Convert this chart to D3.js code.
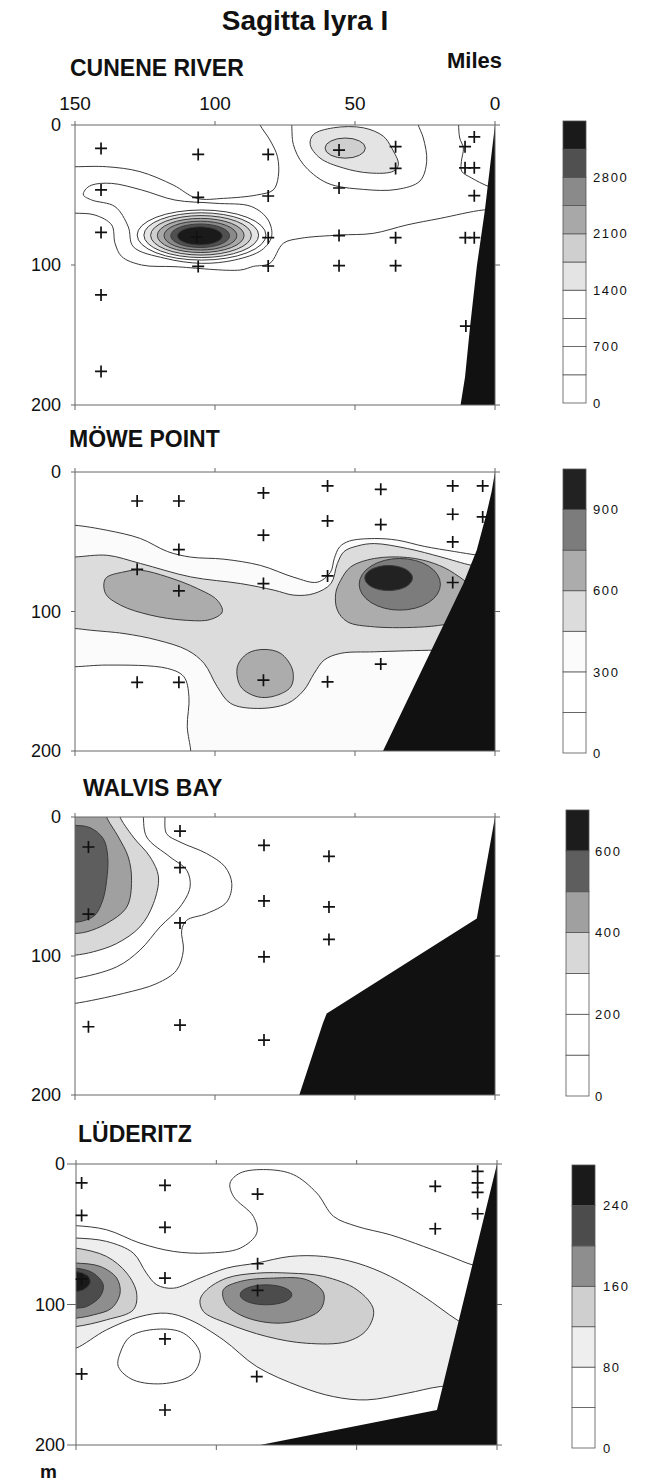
<!DOCTYPE html>
<html><head><meta charset="utf-8">
<script src="https://cdn.jsdelivr.net/npm/d3@7"></script>
<style>
body{margin:0;background:#fff;}
svg text{font-family:"Liberation Sans",Arial,Helvetica,sans-serif;fill:#111;}
</style></head><body>
<svg id="c" width="651" height="1483"></svg>
<script>
// ---------------- DATA (miles offshore, depth in m) ----------------
const title = "Sagitta lyra I";
const panelNames = ["CUNENE RIVER", "MÖWE POINT", "WALVIS BAY", "LÜDERITZ"];
const milesTicks = [150, 100, 50, 0];
const depthTicks = [0, 100, 200];
const legendSteps = [350, 150, 100, 40];
const legendLabelsCunene = [0, 700, 1400, 2100, 2800];
const legendLabelsMowe = [0, 300, 600, 900];
const legendLabelsWalvis = [0, 200, 400, 600];
const legendLabelsLuderitz = [0, 80, 160, 240];

const stationsCunene = [[140.7,16.7],[140.7,46.4],[140.7,76.7],[140.7,121.4],[140.7,176],
  [106,21],[106,51.7],[106.5,80],[106,101],[81,21],[81,50.7],[81,80.5],[81,100.7],
  [55.7,17.9],[55.7,45],[55.7,79],[55.7,100.5],[35.5,15.5],[35.5,31],[35.5,80.5],[35.5,100.5],
  [7.4,8.5],[10.7,15.5],[10.7,30.6],[7.4,30.6],[7.4,50.5],[10.6,80.5],[7.4,80.5],[10.4,143.6]];
const stationsMowe = [[127.8,20.8],[112.9,20.8],[82.7,15],[59.8,10],[40.8,12.4],[15.1,10],[4.4,10],
  [59.8,35.1],[40.8,37.7],[15.1,30.3],[4.4,32.2],[82.7,45.3],[112.9,55.6],[15.1,50.1],
  [127.8,69.7],[112.9,85.2],[82.7,80],[59.8,74.5],[15.1,79.2],
  [40.8,137.7],[127.8,150.8],[112.9,150.8],[82.7,149.2],[59.8,150.4]];
const stationsWalvis = [[112.5,10.1],[145.2,21.6],[112.5,36.4],[145.2,69.9],[112.5,76.2],[145.2,150.9],
  [112.5,149.7],[82.5,20.4],[82.5,60.4],[82.5,100.6],[82.5,160.5],[59.3,28.3],[59.3,64.7],[59.3,88.1]];
const stationsLuderitz = [[148,13.5],[148,36.6],[148,82],[148,149.4],[118.3,15.2],[118.3,45.1],[118.3,81.2],
  [118.3,124.5],[118.3,175.1],[85.3,21.4],[85.3,71],[85.3,90],[85.6,151.3],[22,15.9],[22,46.1],
  [6.9,5.2],[6.9,13.5],[6.9,20.2],[6.9,35.4]];

const landCunene = [[0,0],[1.5,25],[3.6,60.7],[6.5,101],[8.9,144],[10.7,180],[12.3,200],[0,200]];
const landMowe = [[0,0],[1.2,14],[3,29.6],[6.5,56],[11.3,80],[40,200],[0,200]];
const landWalvis = [[0,0],[6.5,73],[60.1,141.3],[61.5,148.5],[69.9,200],[0,200]];
const landLuderitz = [[0,0],[21.4,175],[84.4,200],[0,200]];

// contour lines: runs = traced line pieces, edges = closure outside the frame
const contoursCunene = [
  {v:350, runs:[
    [[155,29.8],[150,29.8],[138.7,29.8],[126.8,33.3],[114.9,42.9],[106.5,52.4],[97,52.4],[85.1,50],[79.2,46.4],[77.4,36.9],[77.7,22.6],[80.4,10.7],[83.9,0],[84.5,-4]],
    [[-3,60.5],[4.2,60.7],[19.6,66.7],[31.5,71.4],[43.5,77.4],[55.4,78.6],[69.6,81],[75.6,84.5],[80.4,98.8],[86.3,101],[91,103.6],[114.3,101.2],[126.2,100],[133.3,94],[135.7,84.5],[136.9,71.4],[142.9,64.3],[150,63],[155,63]]],
   edges:[[[84.5,-6],[-6,-6],[-6,60.5]],[[157,63],[157,29.8]]]},
  {v:700, loop:[[146.4,46.4],[144,42.9],[136.9,41.7],[126.2,46.4],[114.3,53.6],[100,55.9],[86.9,58.3],[81,67.9],[79.8,79.8],[83.3,89.3],[92.9,96.4],[104.8,98.8],[117.9,95.2],[129.2,86.9],[131,72.6],[135.7,58.3],[144,53.6],[147,50]]},
  {v:700, runs:[[[72.8,-3],[72.6,0],[72,14],[68.5,28],[60,41.4],[47,46],[35,46],[26.8,40],[24.4,26],[25.6,9.3],[27.4,0],[27.6,-3]]],
   edges:[[[27.6,-6],[72.8,-6]]]},
  {v:700, runs:[[[13,-3],[13,0],[12.6,9.3],[11.3,16.4],[12,26],[11.9,33],[8.3,37.9],[2.4,43.8],[-3,47]]],
   edges:[[[-6,47],[-6,-6],[13,-6]]]},
  {v:1050, ell:[104.8,78.6,23,17.9]},
  {v:1400, ell:[104.9,78.7,20.5,16]},
  {v:1400, loop:[[64.9,6.9],[57.7,2],[47,2],[39.9,8],[36.9,16.4],[34.5,28.3],[36.3,33],[44.6,34.3],[54.2,30.7],[62.5,23.6],[66,14]]},
  {v:1750, ell:[105,78.8,18,14.1]},
  {v:1750, ell:[53.5,16.5,7.2,7.2]},
  {v:2100, ell:[105.1,78.9,15.5,12.2]},
  {v:2450, ell:[105.2,79,13,10.3]},
  {v:2800, ell:[105.3,79.1,10.5,8.4]},
  {v:3150, ell:[105.4,79.2,8,6.5]}
];
const contoursMowe = [
  {v:300, runs:[
    [[155,38.2],[150,38.2],[138.5,41.8],[126.6,47.7],[117,57],[108.7,61],[96.8,62.5],[83.7,67],[71.8,75.5],[63.5,79],[58.8,72],[57.4,62],[55.5,53.7],[52,49.5],[43.1,47.7],[34.8,48.9],[25.3,53.3],[14.5,57],[6.5,59.5],[3,60]],
    [[108.7,204],[108.7,199.3],[109.9,182.6],[109.3,161.1],[111.1,146.8],[117,140.8],[138.5,138.4],[150,139.6],[155,139.6]]],
   edges:[[[-6,60],[-6,206],[108.7,206]],[[157,139.6],[157,38.2]]]},
  {v:450, runs:[
    [[155,60.9],[150,60.9],[138.5,59.7],[126.6,65.6],[108.7,75.2],[90.8,80],[78.9,84.7],[71.8,88.3],[64.6,87.1],[58.6,80],[56.3,65.6],[53.9,57],[49.1,53],[43.1,51.3],[31.2,54.9],[19.3,60.9],[8.6,66.8],[4,68]],
    [[15,127.5],[21.7,127.7],[43.1,128.9],[55.1,130],[61,134.8],[64.6,144.4],[68.2,156.3],[74.1,165.9],[84.9,169.5],[94.4,165.9],[99.2,153.9],[103.9,137.2],[109.9,127.7],[120.6,120.5],[132.5,115.8],[144.5,113.4],[150,112.2],[155,112]]],
   edges:[[[-6,68],[-6,127.5]],[[157,112],[157,60.9]]]},
  {v:600, loop:[[139.1,76.4],[132.5,71.6],[126.6,70.4],[117,75.2],[106.3,83.5],[99.2,91.9],[97.4,100.2],[101.6,105.7],[111.1,106.2],[123,102.6],[133.7,95.5],[139.1,87.1]]},
  {v:600, loop:[[92,139.6],[88.4,130.1],[82.5,127.2],[76.5,130.1],[72.3,142],[72.9,153.9],[78.8,160.6],[84.9,161.1],[90.8,153.9]]},
  {v:600, loop:[[56.9,87.1],[55.1,77.6],[51.5,68],[43.1,62],[31.2,61.3],[21.7,65.6],[14.5,72.8],[8,85],[10,105],[15.7,108.5],[25.3,111],[43.1,111],[52.7,107.4],[56.3,99]]},
  {v:750, ell:[34,80.5,14.5,18.5]},
  {v:900, ell:[38,76,8.5,9]}
];
const contoursWalvis = [
  {v:100, runs:[[[118,-3],[117.9,0],[117.3,12],[112.5,18],[103,26.3],[96.4,35.9],[94,47.9],[95.8,61.1],[103,69.5],[110.1,74.3],[111.9,81.4],[111.3,95.8],[113.7,110.2],[120.8,119.8],[132.7,126.9],[150,134.1],[155,135]]],
   edges:[[[157,135],[157,-6],[118,-6]]]},
  {v:200, runs:[[[125.7,-3],[125.6,0],[124.4,14.4],[116.1,28.7],[110.1,38.3],[108.9,50.3],[112.5,64.7],[119.6,79],[126.8,95.8],[135.1,107.8],[150,116.2],[155,117]]],
   edges:[[[157,117],[157,-6],[125.7,-6]]]},
  {v:300, runs:[[[134,-3],[133.9,0],[129.2,14.4],[123.2,28.7],[120.2,43.1],[122,62.3],[126.8,79],[135.1,91],[143.5,97],[150,99.4],[155,99.6]]],
   edges:[[[157,99.6],[157,-6],[134,-6]]]},
  {v:400, runs:[[[138.8,-3],[138.7,0],[134.5,14.4],[131,28.7],[129.8,45.5],[131.5,64.7],[138.7,76.6],[145.8,82.6],[150,83.8],[155,84]]],
   edges:[[[157,84],[157,-6],[138.8,-6]]]},
  {v:500, runs:[[[155,6],[150,6],[144.6,7.7],[139.9,15.6],[138.3,28.7],[138.7,45.5],[140.1,59.9],[142.9,70.7],[147,74.7],[150,75.7],[155,76]]],
   edges:[[[157,76],[157,6]]]}
];
const contoursLuderitz = [
  {v:40, runs:[[[155,43.9],[150,43.9],[139.1,46.8],[127.2,56.3],[115.3,62.2],[103.4,63.4],[91.5,59.9],[85.6,49.2],[86.8,37.3],[93.9,23],[95.1,13.5],[91.5,6.4],[82,4],[72.5,7.6],[64.2,20.7],[58.2,37.3],[49.9,44.4],[38,50.4],[26.1,58.7],[16.6,65.8],[8.9,71.7],[4,73.5]]],
   edges:[[[-6,73.5],[-6,206],[157,206],[157,43.9]]]},
  {v:40, hole:true, loop:[[134.3,134.7],[130.7,122.8],[121.2,117.6],[111.7,120.4],[105.8,134.7],[108.2,148.9],[117.7,156.1],[129.6,153.7],[134.9,144.2]]},
  {v:80, runs:[
    [[155,52.7],[150,52.7],[139.1,55.1],[129.6,63.4],[124.9,77.7],[121.2,86],[115.3,88.4],[105.8,81.2],[96.3,74.1],[85.6,70.5],[73.7,65.8],[61.8,65.8],[49.9,70.5],[38,80],[26.1,94.3],[14.3,110.9],[8,118]],
    [[10,158],[20.2,158.4],[32.1,163.2],[46.4,167.9],[58.2,165.6],[70.1,158.4],[85.6,144.2],[97.5,125.2],[109.4,110.9],[117.7,106.2],[127.2,108.6],[139.1,118],[150,131.1],[155,133]]],
   edges:[[[-6,118],[-6,158]],[[157,133],[157,52.7]]]},
  {v:120, runs:[[[155,59.9],[150,59.9],[139.1,65.8],[131.9,77.7],[128.4,91.9],[129.6,103.8],[139.1,110.9],[150,115.7],[155,116]]], edges:[[[157,116],[157,59.9]]]},
  {v:120, loop:[[105.8,96.7],[103.4,89.5],[96.3,81.2],[85.6,77.7],[73.7,77.7],[61.8,80],[49.9,89.5],[44,103.8],[46.4,118],[53.5,126.4],[67.8,127.6],[82,122.8],[96.3,113.3],[104.6,105]]},
  {v:160, runs:[[[155,70.5],[150,70.5],[141.4,72.9],[135.5,81.2],[134.3,91.9],[137.3,102.6],[143.8,107.4],[150,109.7],[155,110]]], edges:[[[157,110],[157,70.5]]]},
  {v:160, loop:[[97.5,89.5],[91.5,83.6],[79.6,81.2],[67.8,82.4],[61.8,91.9],[63,103.8],[72.5,112.1],[82,112.8],[91.5,107.4],[96.8,99]]},
  {v:200, runs:[[[155,74.1],[150,74.1],[143.8,77.7],[140.3,86],[141.4,94.3],[146.2,101.4],[150,102.6],[155,103]]], edges:[[[157,103],[157,74.1]]]},
  {v:200, ell:[82.3,93.1,9.2,7.1]},
  {v:240, runs:[[[155,76.5],[150,76.5],[145.6,80],[145,84.8],[147.4,89.5],[150,90.7],[155,91]]], edges:[[[157,91],[157,76.5]]]}
];

// ---------------- STYLE / LAYOUT ----------------
const bandColors = [
  ["#ffffff","#ffffff","#ffffff","#ffffff","#e4e4e4","#cfcfcf","#a8a8a8","#8a8a8a","#505050","#1a1a1a"],
  ["#ffffff","#ffffff","#fbfbfb","#dcdcdc","#acacac","#7c7c7c","#222222"],
  ["#ffffff","#ffffff","#ffffff","#d8d8d8","#a0a0a0","#5e5e5e","#1c1c1c"],
  ["#ffffff","#ffffff","#eeeeee","#cfcfcf","#8e8e8e","#4c4c4c","#1a1a1a"]
];
const layout = [
  {x0:75, x1:495, y0:125, y1:405, tx:70, ty:76, lx:563, lw:23, lt:121, lb:403, labx:593},
  {x0:75, x1:495, y0:472, y1:751, tx:69, ty:447, lx:563, lw:23, lt:469, lb:753, labx:593},
  {x0:75, x1:495, y0:817, y1:1095, tx:83, ty:796, lx:566, lw:23, lt:810, lb:1096, labx:595},
  {x0:76, x1:497, y0:1164, y1:1445, tx:78, ty:1142, lx:572, lw:23, lt:1165, lb:1448, labx:603}
];
const allStations = [stationsCunene, stationsMowe, stationsWalvis, stationsLuderitz];
const allLand = [landCunene, landMowe, landWalvis, landLuderitz];
const allContours = [contoursCunene, contoursMowe, contoursWalvis, contoursLuderitz];
const allLegendLabels = [legendLabelsCunene, legendLabelsMowe, legendLabelsWalvis, legendLabelsLuderitz];

const svg = d3.select("#c");
svg.append("text").attr("x", 305).attr("y", 30).attr("text-anchor", "middle")
  .attr("font-size", 28).attr("font-weight", "bold").text(title);
svg.append("text").attr("x", 447).attr("y", 68).attr("font-size", 22).attr("font-weight", "bold").text("Miles");
svg.append("text").attr("x", 40).attr("y", 1478).attr("font-size", 19).attr("font-weight", "bold").text("m");

layout.forEach((L, pi) => {
  const xs = d3.scaleLinear().domain([150, 0]).range([L.x0, L.x1]);
  const ys = d3.scaleLinear().domain([0, 200]).range([L.y0, L.y1]);
  const step = legendSteps[pi];
  const colors = bandColors[pi];
  const colorOf = v => colors[Math.min(colors.length - 1, Math.round(v / step))];
  const g = svg.append("g");

  g.append("text").attr("x", L.tx).attr("y", L.ty).attr("font-size", 23).attr("font-weight", "bold").text(panelNames[pi]);

  const clipId = "clip" + pi;
  svg.append("clipPath").attr("id", clipId).append("rect")
    .attr("x", L.x0).attr("y", L.y0).attr("width", L.x1 - L.x0).attr("height", L.y1 - L.y0);
  const plot = g.append("g").attr("clip-path", `url(#${clipId})`);

  const openLine = d3.line().x(p => xs(p[0])).y(p => ys(p[1])).curve(d3.curveCatmullRom.alpha(0.5));
  const closedLine = d3.line().x(p => xs(p[0])).y(p => ys(p[1])).curve(d3.curveCatmullRomClosed.alpha(0.5));

  function fillPath(c) {
    if (c.loop) return closedLine(c.loop);
    let d = "";
    c.runs.forEach((run, i) => {
      const s = openLine(run);
      d += (i === 0) ? s : "L" + s.slice(1);
      (c.edges[i] || []).forEach(p => { d += "L" + xs(p[0]) + "," + ys(p[1]); });
    });
    return d + "Z";
  }

  const cts = allContours[pi].slice().sort((a, b) => a.v - b.v);
  cts.forEach(c => {
    const fill = c.hole ? colorOf(c.v - step) : colorOf(c.v);
    if (c.ell) {
      const [cx, cy, rx, ry] = c.ell;
      plot.append("ellipse").attr("cx", xs(cx)).attr("cy", ys(cy))
        .attr("rx", Math.abs(xs(0) - xs(rx))).attr("ry", ys(ry) - ys(0)).attr("fill", fill);
    } else {
      plot.append("path").attr("d", fillPath(c)).attr("fill", fill);
    }
  });
  cts.forEach(c => {
    const st = {stroke: "#3a3a3a", "stroke-width": 1, fill: "none"};
    let el;
    if (c.ell) {
      const [cx, cy, rx, ry] = c.ell;
      el = plot.append("ellipse").attr("cx", xs(cx)).attr("cy", ys(cy))
        .attr("rx", Math.abs(xs(0) - xs(rx))).attr("ry", ys(ry) - ys(0));
      Object.entries(st).forEach(([k, v]) => el.attr(k, v));
    } else if (c.loop) {
      el = plot.append("path").attr("d", closedLine(c.loop));
      Object.entries(st).forEach(([k, v]) => el.attr(k, v));
    } else {
      c.runs.forEach(run => {
        const e = plot.append("path").attr("d", openLine(run));
        Object.entries(st).forEach(([k, v]) => e.attr(k, v));
      });
    }
  });

  const landLine = d3.line().x(p => xs(p[0])).y(p => ys(p[1]));
  plot.append("path").attr("d", landLine(allLand[pi]) + "Z").attr("fill", "#111");

  const fr = g.append("g").attr("stroke", "#666").attr("stroke-width", 1).attr("fill", "none");
  fr.append("line").attr("x1", L.x0).attr("x2", L.x1).attr("y1", L.y0).attr("y2", L.y0);
  fr.append("line").attr("x1", L.x0).attr("x2", L.x1).attr("y1", L.y1).attr("y2", L.y1);
  fr.append("line").attr("x1", L.x0).attr("x2", L.x0).attr("y1", L.y0).attr("y2", L.y1);
  fr.append("line").attr("x1", L.x1).attr("x2", L.x1).attr("y1", L.y0).attr("y2", L.y1);
  milesTicks.forEach(m => {
    fr.append("line").attr("x1", xs(m)).attr("x2", xs(m)).attr("y1", L.y0 - 4).attr("y2", L.y0);
    fr.append("line").attr("x1", xs(m)).attr("x2", xs(m)).attr("y1", L.y1).attr("y2", L.y1 + 5);
  });
  const tickLen = pi === 3 ? 9 : 4;
  depthTicks.forEach(d => {
    fr.append("line").attr("x1", L.x0 - tickLen).attr("x2", L.x0).attr("y1", ys(d)).attr("y2", ys(d));
    fr.append("line").attr("x1", L.x1).attr("x2", L.x1 + 5).attr("y1", ys(d)).attr("y2", ys(d));
    g.append("text").attr("x", pi === 3 ? L.x0 - 11 : L.x0 - 14).attr("y", ys(d))
      .attr("dy", "0.36em").attr("text-anchor", "end").attr("font-size", 18).text(d);
  });
  if (pi === 0) {
    milesTicks.forEach(m => {
      g.append("text").attr("x", xs(m)).attr("y", 110).attr("text-anchor", "middle")
        .attr("font-size", 19).text(m);
    });
  }

  g.selectAll("path.st").data(allStations[pi]).enter().append("path")
    .attr("class", "st")
    .attr("transform", p => `translate(${xs(p[0])},${ys(p[1])})`)
    .attr("d", "M-6,0H6M0,-6V6").attr("stroke", "#111").attr("stroke-width", 1.7);

  const nb = colors.length;
  const top = step * nb;
  const ls = d3.scaleLinear().domain([0, top]).range([L.lb, L.lt]);
  const lg = g.append("g");
  d3.range(nb).forEach(i => {
    lg.append("rect").attr("x", L.lx).attr("y", ls((i + 1) * step)).attr("width", L.lw)
      .attr("height", ls(i * step) - ls((i + 1) * step)).attr("fill", colors[i])
      .attr("stroke", "#555").attr("stroke-width", 0.8);
  });
  allLegendLabels[pi].forEach(v => {
    lg.append("text").attr("x", L.labx).attr("y", ls(v)).attr("dy", "0.36em")
      .attr("font-size", 13).attr("letter-spacing", 1.6).text(v);
  });
});
</script>
</body></html>
